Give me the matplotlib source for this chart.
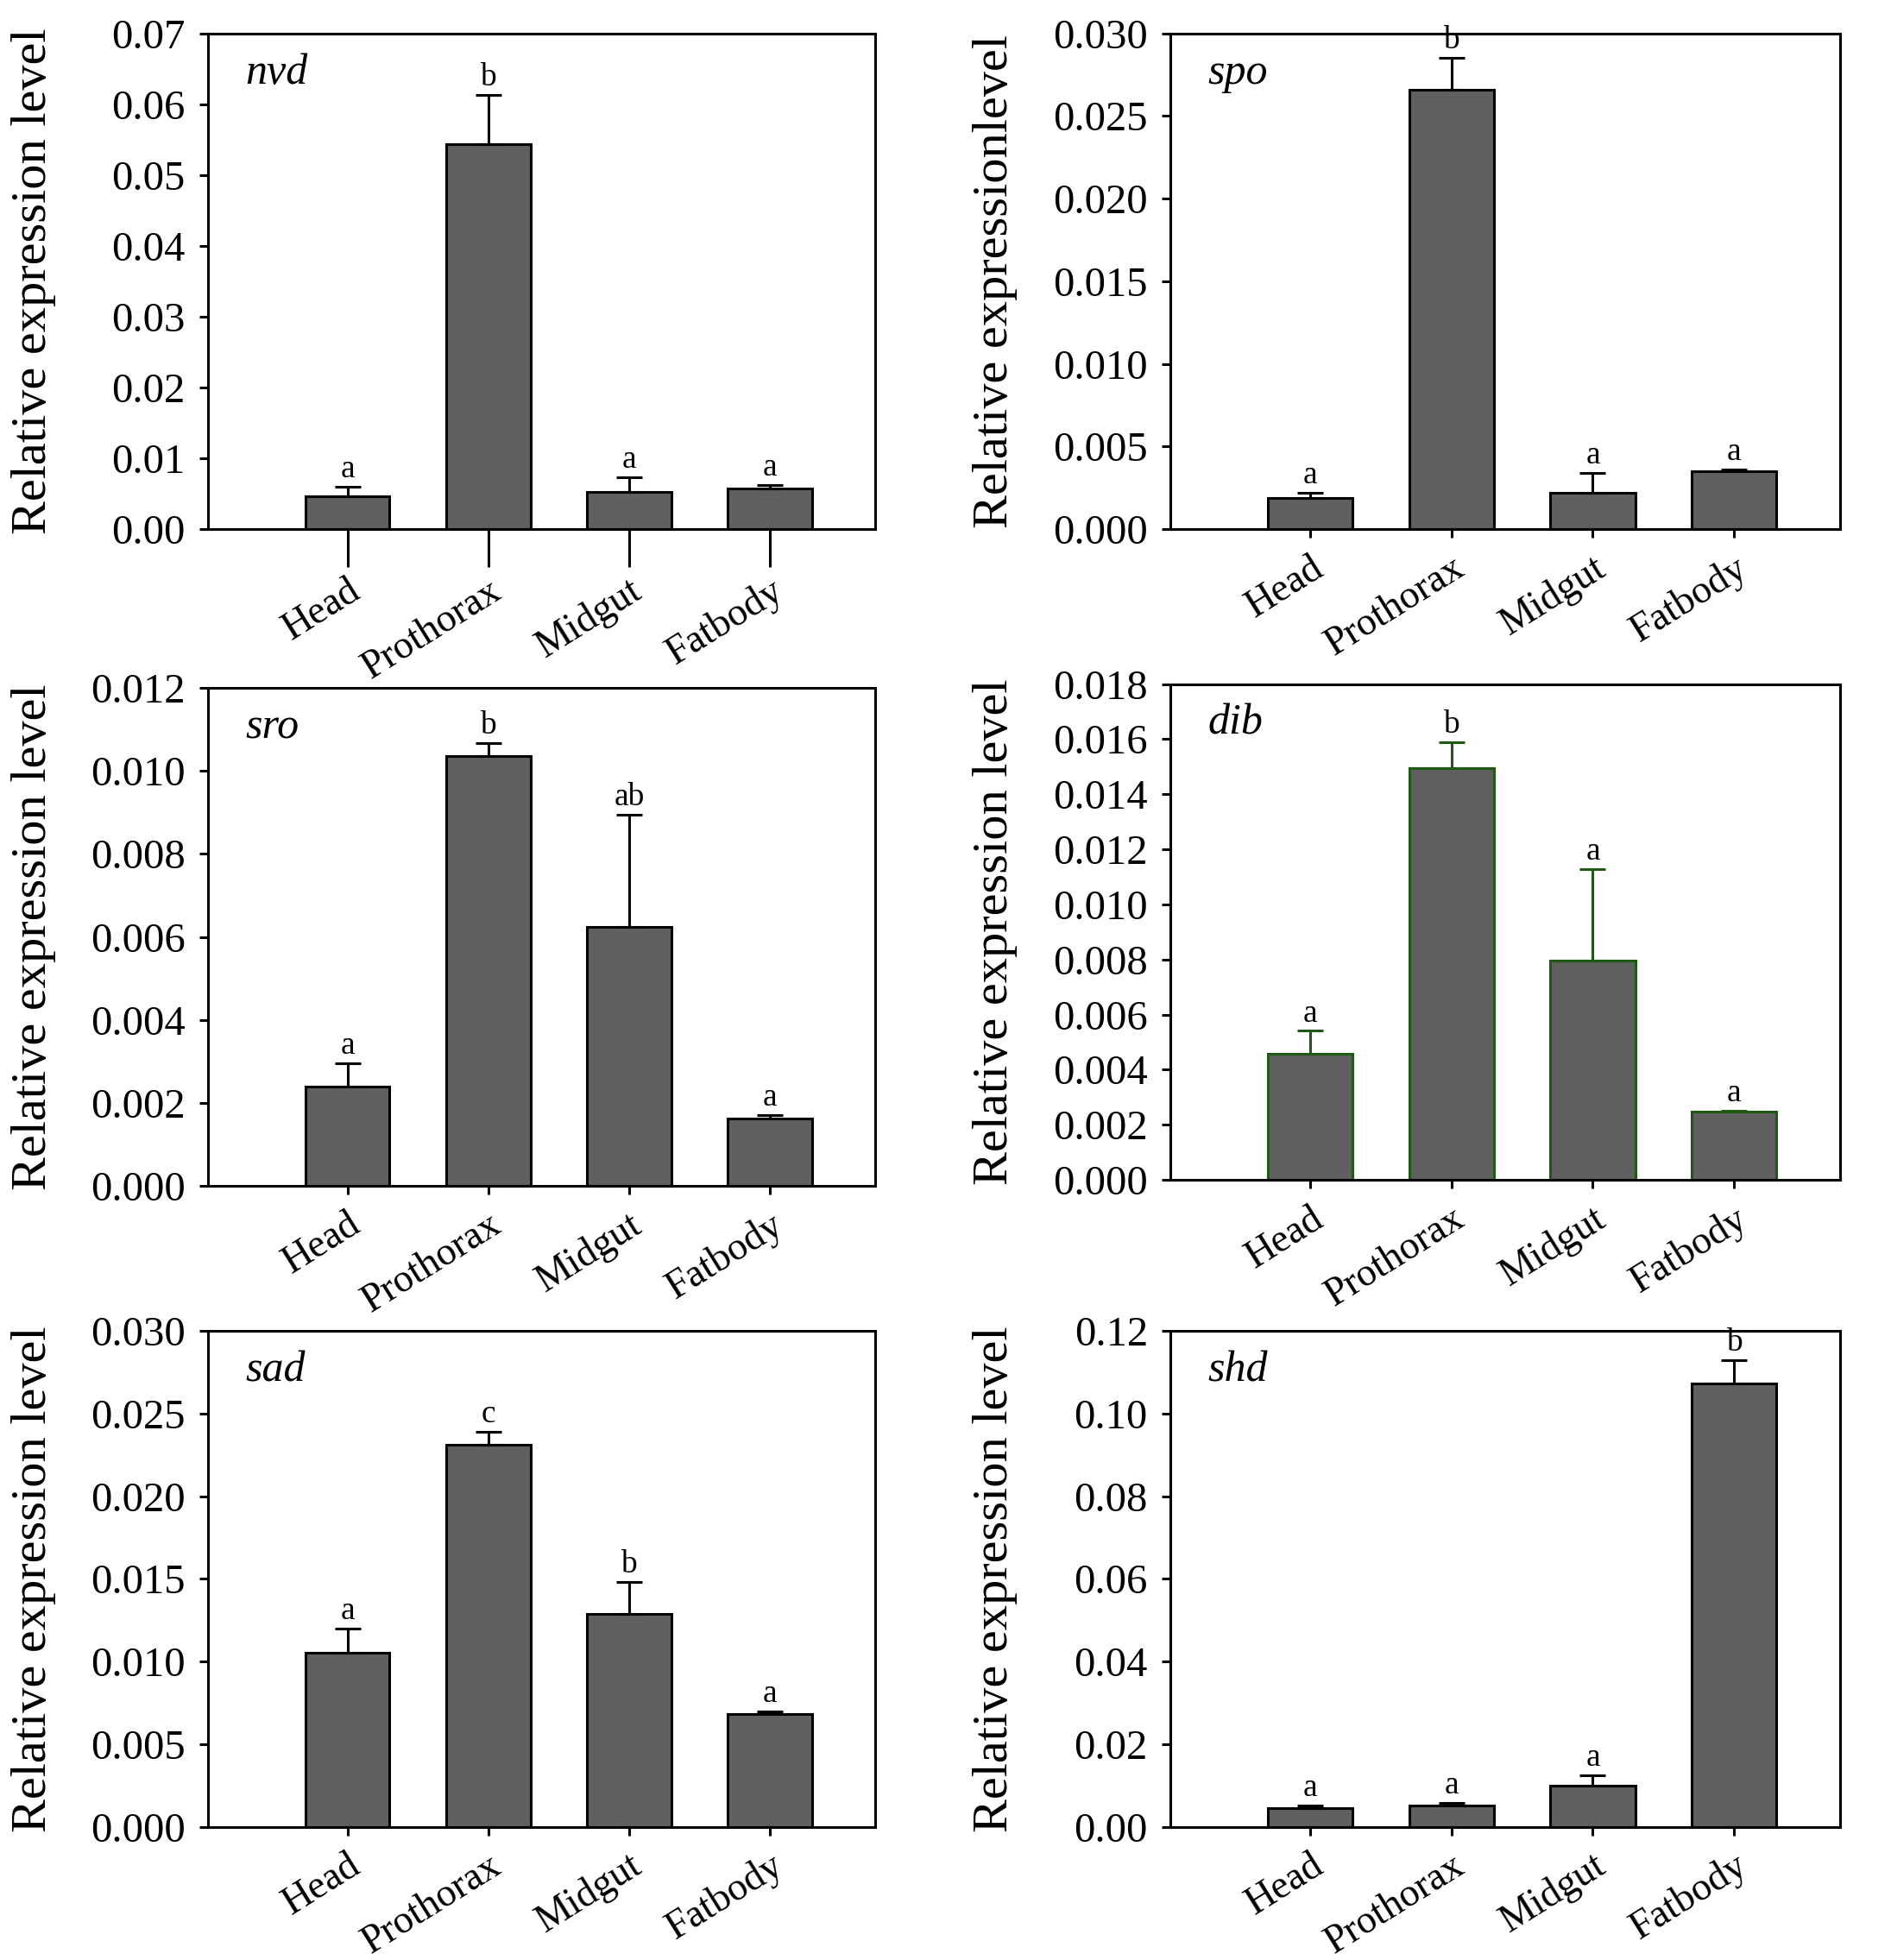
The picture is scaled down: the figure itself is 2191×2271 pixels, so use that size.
import numpy as np
import matplotlib
matplotlib.use('Agg')
import matplotlib.pyplot as plt
from matplotlib.ticker import FormatStrFormatter

plt.rcParams['font.family'] = ['Liberation Serif', 'DejaVu Serif']

tissues = ['Head', 'Prothorax', 'Midgut', 'Fatbody']

# gene, mean values, upper error-bar tops, letters
nvd_mean = [0.0047, 0.0544, 0.0052, 0.0057]
nvd_top = [0.0060, 0.0613, 0.0073, 0.0062]
nvd_sig = ['a', 'b', 'a', 'a']

spo_mean = [0.0019, 0.0266, 0.0022, 0.0035]
spo_top = [0.0022, 0.0285, 0.0034, 0.0036]
spo_sig = ['a', 'b', 'a', 'a']

sro_mean = [0.0024, 0.01035, 0.00623, 0.00163]
sro_top = [0.00295, 0.01067, 0.00895, 0.00170]
sro_sig = ['a', 'b', 'ab', 'a']

dib_mean = [0.00458, 0.01496, 0.00797, 0.00247]
dib_top = [0.00541, 0.01590, 0.01129, 0.00252]
dib_sig = ['a', 'b', 'a', 'a']

sad_mean = [0.0105, 0.0231, 0.0129, 0.0068]
sad_top = [0.0120, 0.0239, 0.0148, 0.0070]
sad_sig = ['a', 'c', 'b', 'a']

shd_mean = [0.0045, 0.0051, 0.0099, 0.1073]
shd_top = [0.0051, 0.0057, 0.0124, 0.1130]
shd_sig = ['a', 'a', 'a', 'b']

panels = [
    ('nvd', nvd_mean, nvd_top, nvd_sig, 0.07, 0.01, '%.2f', 'Relative expression level'),
    ('spo', spo_mean, spo_top, spo_sig, 0.030, 0.005, '%.3f', 'Relative expressionlevel'),
    ('sro', sro_mean, sro_top, sro_sig, 0.012, 0.002, '%.3f', 'Relative expression level'),
    ('dib', dib_mean, dib_top, dib_sig, 0.018, 0.002, '%.3f', 'Relative expression level'),
    ('sad', sad_mean, sad_top, sad_sig, 0.030, 0.005, '%.3f', 'Relative expression level'),
    ('shd', shd_mean, shd_top, shd_sig, 0.12, 0.02, '%.2f', 'Relative expression level'),
]

boxes = [
    [0.110, 0.730, 0.353, 0.253],
    [0.619, 0.730, 0.354, 0.253],
    [0.110, 0.395, 0.353, 0.254],
    [0.619, 0.398, 0.354, 0.253],
    [0.110, 0.068, 0.353, 0.253],
    [0.619, 0.068, 0.354, 0.253],
]

fig = plt.figure(figsize=(21.91, 22.71), dpi=100)
x = np.arange(len(tissues))

for i, (gene, mean, top, sig, ymax, step, fmt, ylab) in enumerate(panels):
    ax = fig.add_axes(boxes[i])
    edge = '#1e5a14' if gene == 'dib' else 'black'
    mean = np.array(mean)
    err = np.array(top) - mean
    ax.bar(x, mean, width=0.6, color='#606060', edgecolor=edge, linewidth=2.2, zorder=2)
    ax.errorbar(x, mean, yerr=[np.zeros_like(err), err], fmt='none', ecolor=edge,
                elinewidth=2.2, capsize=11, capthick=2.2, zorder=3)
    for xi, t, s in zip(x, top, sig):
        ax.text(xi, t + ymax * 0.005, s, ha='center', va='bottom', fontsize=27)
    ax.set_xlim(-0.99, 3.75)
    ax.set_ylim(0, ymax)
    ax.set_yticks(np.arange(0, ymax + step / 2, step))
    ax.yaxis.set_major_formatter(FormatStrFormatter(fmt))
    ax.set_xticks(x)
    ax.set_xticklabels(tissues, rotation=32, ha='right', rotation_mode='anchor')
    ax.tick_params(axis='y', labelsize=35, width=2.2, length=7, direction='out', pad=12)
    if i == 0:
        ax.tick_params(axis='x', labelsize=33, width=2.2, length=32, direction='out', pad=4)
    else:
        ax.tick_params(axis='x', labelsize=33, width=2.2, length=7, direction='out', pad=10)
    for sp in ax.spines.values():
        sp.set_linewidth(2.2)
    ax.set_ylabel(ylab, fontsize=42)
    ax.yaxis.set_label_coords(-0.228, 0.5)
    ax.text(0.056, 0.92, gene, transform=ax.transAxes, fontsize=36,
            style='italic', ha='left', va='center')

fig.savefig('out.png', dpi=100)
